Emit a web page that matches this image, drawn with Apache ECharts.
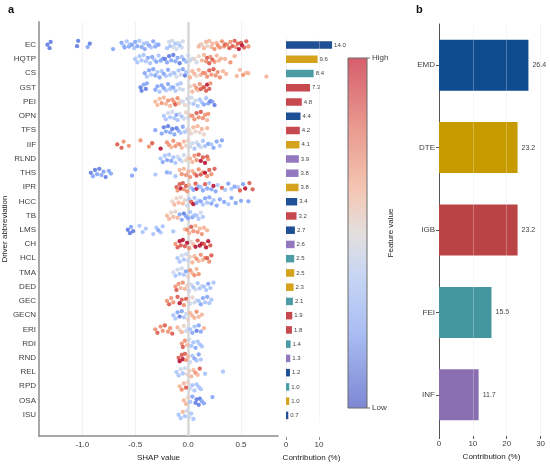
<!DOCTYPE html>
<html>
<head>
<meta charset="utf-8">
<script src="https://cdn.jsdelivr.net/npm/echarts@6/dist/echarts.min.js"></script>
<style>
  html, body { margin: 0; padding: 0; background: #fff; }
  #chart { width: 550px; height: 467px; }
</style>
</head>
<body>
<div id="chart"></div>
<script>
var FEATURES = ['EC', 'HQTP', 'CS', 'GST', 'PEI', 'OPN', 'TFS', 'IIF', 'RLND', 'THS', 'IPR', 'HCC', 'TB', 'LMS',
  'CH', 'HCL', 'TMA', 'DED', 'GEC', 'GECN', 'ERI', 'RDI', 'RND', 'REL', 'RPD', 'OSA', 'ISU'];
var FEATURE_GROUP = ['EMD', 'DTE', 'FEI', 'IGB', 'IGB', 'EMD', 'IGB', 'DTE', 'INF', 'INF', 'DTE', 'EMD', 'IGB', 'EMD',
  'INF', 'FEI', 'DTE', 'DTE', 'FEI', 'IGB', 'IGB', 'FEI', 'INF', 'EMD', 'FEI', 'DTE', 'EMD'];
var CONTRIB = [14.0, 9.6, 8.4, 7.3, 4.8, 4.4, 4.2, 4.1, 3.9, 3.8, 3.8, 3.4, 3.2, 2.7,
  2.6, 2.5, 2.5, 2.3, 2.1, 1.9, 1.8, 1.4, 1.3, 1.2, 1.0, 1.0, 0.7];
var GROUPS = ['EMD', 'DTE', 'IGB', 'FEI', 'INF'];
var GROUP_CONTRIB = [26.4, 23.2, 23.2, 15.5, 11.7];
var SHAP_TICKS = [-1, -0.5, 0, 0.5];
var CONTRIB_TICKS_A = [0, 10];
var CONTRIB_TICKS_B = [0, 10, 20, 30];

// "shap:feature value" pairs, feature value 0 (low) .. 9 (high), one string per driver
var SHAP_POINTS = [
  '-1.33:1 -1.31:1 -1.30:1 -1.05:1 -1.04:1 -0.95:2 -0.93:1 -0.71:2 ' +
  '-0.63:2 -0.61:3 -0.60:2 -0.58:3 -0.56:2 -0.55:3 -0.53:2 -0.51:3 -0.50:2 -0.48:2 -0.46:3 -0.44:2 -0.42:3 -0.41:2 -0.39:3 -0.37:2 -0.35:3 -0.33:2 -0.31:2 -0.30:3 -0.28:2 ' +
  '-0.20:3 -0.18:4 -0.17:3 -0.15:4 -0.14:4 -0.12:3 -0.11:4 -0.09:4 -0.08:3 -0.06:4 -0.05:4 ' +
  '0.10:6 0.12:6 0.13:5 0.15:6 0.17:6 0.18:5 0.20:6 0.22:6 0.23:6 0.25:7 0.27:6 0.28:7 0.30:7 ' +
  '0.32:7 0.34:7 0.35:8 0.37:7 0.39:8 0.40:7 0.42:8 0.44:8 0.45:7 0.47:8 0.48:9 0.50:8 0.51:9 0.53:8 0.55:8 0.57:7',
  '-0.50:3 -0.48:3 -0.46:3 -0.44:3 -0.42:3 -0.40:3 -0.38:2 -0.36:3 -0.34:2 -0.32:3 -0.30:2 -0.28:3 -0.26:2 -0.24:2 -0.22:1 -0.20:2 -0.18:1 -0.16:2 -0.14:1 -0.12:2 -0.10:2 -0.08:1 -0.06:3 -0.04:2 -0.02:3 ' +
  '0.00:4 0.02:4 0.04:4 0.06:5 0.08:4 0.10:5 0.13:6 0.15:6 0.17:7 0.18:8 0.20:8 0.21:7 0.23:8 0.25:7 0.27:6 0.29:6 0.31:6 0.35:6 0.40:7 0.44:6',
  '-0.41:2 -0.39:3 -0.37:2 -0.35:3 -0.33:2 -0.31:2 -0.29:3 -0.27:2 -0.25:3 -0.23:2 -0.21:3 -0.19:2 -0.17:3 -0.15:4 -0.13:3 -0.11:4 -0.09:3 -0.07:4 -0.05:2 -0.03:1 -0.02:3 ' +
  '0.02:6 0.04:6 0.06:6 0.08:5 0.10:6 0.12:6 0.14:7 0.16:7 0.18:7 0.20:8 0.22:7 0.24:8 0.26:7 0.28:7 0.30:7 0.33:6 0.36:6 0.46:6 0.49:6 0.52:7 0.55:6 0.57:6 0.74:6',
  '-0.45:1 -0.44:1 -0.42:2 -0.40:1 -0.39:2 -0.31:2 -0.29:2 -0.27:3 -0.25:2 -0.23:2 -0.21:3 -0.19:2 -0.17:3 -0.16:3 -0.14:2 -0.12:3 -0.10:3 -0.08:4 -0.07:3 -0.05:4 ' +
  '0.02:5 0.04:6 0.06:6 0.08:7 0.09:6 0.11:7 0.12:8 0.14:7 0.15:8 0.17:8 0.18:9 0.20:8 0.21:7',
  '-0.31:6 -0.29:6 -0.27:6 -0.25:7 -0.23:6 -0.21:6 -0.19:7 -0.17:6 -0.15:7 -0.13:7 -0.12:8 -0.10:7 -0.09:6 -0.07:5 -0.05:4 -0.03:5 -0.01:4 ' +
  '0.01:4 0.03:4 0.05:3 0.07:4 0.09:3 0.11:3 0.13:3 0.15:2 0.17:3 0.19:2 0.21:1 0.23:2 0.25:1',
  '-0.23:3 -0.21:3 -0.19:4 -0.17:3 -0.15:4 -0.13:3 -0.11:2 -0.10:3 -0.08:4 -0.06:3 -0.04:4 -0.02:5 0.00:4 ' +
  '0.02:6 0.04:7 0.06:7 0.08:8 0.10:7 0.12:8 0.14:7 0.16:7 0.18:6 0.19:7',
  '-0.31:2 -0.25:2 -0.23:1 -0.21:2 -0.19:1 -0.17:2 -0.15:1 -0.13:2 -0.11:1 -0.09:2 -0.07:3 -0.05:2 -0.03:3 -0.01:4 ' +
  '0.01:5 0.03:5 0.05:6 0.07:5 0.09:6 0.11:5 0.13:6 0.15:5 0.18:6',
  '-0.67:8 -0.63:8 -0.61:7 -0.56:7 -0.45:7 -0.37:7 -0.34:8 -0.26:9 -0.20:7 -0.18:7 -0.16:6 -0.14:7 -0.12:7 -0.10:6 -0.08:7 -0.06:6 -0.04:6 -0.02:5 ' +
  '0.00:5 0.02:4 0.04:4 0.06:3 0.08:4 0.10:3 0.12:4 0.14:3 0.16:3 0.19:2 0.22:3 0.24:2 0.27:2 0.30:3 0.32:2',
  '-0.26:3 -0.24:2 -0.22:3 -0.20:2 -0.18:3 -0.16:2 -0.14:3 -0.12:3 -0.10:4 -0.08:3 -0.06:4 -0.04:4 -0.02:5 ' +
  '0.00:5 0.02:6 0.04:6 0.06:7 0.08:7 0.10:8 0.12:9 0.14:8 0.16:9 0.18:8 0.19:7',
  '-0.92:1 -0.90:2 -0.88:1 -0.86:2 -0.84:1 -0.82:2 -0.80:2 -0.78:1 -0.75:2 -0.73:2 -0.53:2 -0.50:2 -0.31:3 -0.20:2 -0.17:3 -0.12:3 ' +
  '-0.08:6 -0.06:7 -0.04:6 -0.02:7 0.00:6 0.02:7 0.04:6 0.06:7 0.08:8 0.10:7 0.12:8 0.14:7 0.16:9 0.18:7 0.20:8 0.22:7 0.25:8',
  '-0.11:8 -0.10:7 -0.08:8 -0.07:9 -0.05:8 -0.04:7 -0.02:8 -0.01:7 0.01:6 0.03:3 0.05:2 0.07:8 0.08:9 0.10:2 0.12:3 0.14:2 0.16:8 ' +
  '0.18:2 0.20:3 0.22:2 0.24:9 0.26:2 0.28:3 0.32:8 0.35:3 0.38:2 0.41:3 0.44:2 0.47:3 0.49:8 0.52:2 0.54:9 0.58:8 0.61:8',
  '-0.15:5 -0.13:6 -0.11:5 -0.09:6 -0.07:5 -0.05:6 -0.03:5 -0.01:4 0.01:3 0.03:8 0.05:9 0.06:3 0.08:2 0.10:3 0.12:2 0.14:3 ' +
  '0.16:2 0.18:3 0.20:2 0.22:2 0.24:3 0.27:2 0.30:2 0.34:2 0.38:3 0.41:2 0.45:2 0.50:2 0.57:2',
  '-0.20:6 -0.18:6 -0.16:5 -0.14:6 -0.12:5 -0.10:6 -0.08:2 -0.06:2 -0.04:1 -0.02:2 0.00:2 0.02:3 0.04:2 0.06:3 0.08:3 0.10:3 0.12:4 0.14:3',
  '-0.57:1 -0.55:1 -0.54:2 -0.52:1 -0.46:3 -0.43:3 -0.40:3 -0.33:3 -0.30:3 -0.28:2 -0.26:3 -0.24:3 -0.14:3 ' +
  '-0.03:6 -0.01:7 0.01:6 0.03:8 0.05:7 0.07:6 0.09:7 0.11:6 0.13:7 0.15:6 0.18:6',
  '-0.12:7 -0.10:8 -0.08:9 -0.07:8 -0.05:9 -0.03:8 -0.01:9 0.01:7 0.03:5 0.05:6 0.07:9 0.09:8 0.11:9 0.13:9 0.15:8 0.17:9 0.19:9 0.21:8',
  '-0.10:3 -0.08:3 -0.06:4 -0.04:3 -0.02:4 0.00:4 0.02:5 0.04:6 0.06:6 0.08:7 0.10:6 0.12:7 0.14:6 0.16:7 0.18:8 0.20:7 0.22:8',
  '-0.14:4 -0.12:3 -0.10:4 -0.08:3 -0.06:4 -0.04:3 -0.02:2 0.00:5 0.02:7 0.04:6 0.06:7 0.08:6 0.10:7',
  '-0.12:7 -0.11:8 -0.09:7 -0.07:6 -0.05:7 -0.03:6 -0.01:5 0.01:4 0.03:4 0.05:3 0.07:4 0.09:3 0.11:3 0.13:4 0.15:3 0.17:3 0.19:2 0.21:3 0.24:3',
  '-0.20:7 -0.18:8 -0.16:7 -0.14:7 -0.10:8 -0.08:9 -0.06:8 -0.04:7 -0.02:8 0.00:5 0.02:4 0.04:5 0.06:4 0.08:4 0.10:3 0.12:2 0.14:2 0.16:3 0.18:2 0.20:3 0.22:3',
  '-0.14:3 -0.12:3 -0.10:2 -0.08:1 -0.06:2 -0.04:3 -0.02:4 0.00:5 0.02:6 0.04:6 0.06:6 0.08:7 0.10:6 0.13:6',
  '-0.31:7 -0.29:8 -0.26:7 -0.24:7 -0.22:8 -0.19:7 -0.17:7 -0.15:8 -0.10:6 -0.08:5 -0.06:6 -0.04:5 -0.02:4 0.00:4 0.02:3 0.04:2 0.06:3 0.08:1 0.10:2 0.12:2 0.15:6',
  '-0.06:7 -0.05:8 -0.03:7 -0.01:6 0.01:4 0.03:3 0.05:3 0.07:2 0.09:3 0.11:3 0.13:3',
  '-0.09:8 -0.08:9 -0.06:8 -0.05:9 -0.03:8 -0.02:7 0.00:6 0.02:4 0.04:3 0.06:2 0.08:3 0.10:2 0.12:3',
  '-0.11:3 -0.09:3 -0.07:4 -0.05:3 -0.03:4 -0.01:5 0.01:5 0.03:6 0.05:6 0.07:7 0.09:6 0.11:8 0.16:3 0.33:3',
  '-0.08:6 -0.06:7 -0.04:6 -0.02:8 0.00:5 0.02:4 0.04:3 0.06:3 0.08:3 0.10:3 0.12:3',
  '-0.04:6 -0.02:6 0.00:5 0.02:3 0.04:2 0.07:1 0.08:1 0.10:1 0.11:1 0.13:2 0.15:2 0.23:2',
  '-0.09:3 -0.07:3 -0.05:6 -0.03:3 -0.01:4 0.01:4 0.03:3 0.05:3'
];

(function() {
  var font = 'Liberation Sans, Arial, sans-serif';
  var ink = '#222';
  var tickInk = '#3d3d3d';
  var groupColorA = { EMD: '#1f4f95', DTE: '#d4a21c', IGB: '#c64950', FEI: '#4c9ca5', INF: '#9378bf' };
  var groupColorB = { EMD: '#0f4b8f', DTE: '#c79b00', IGB: '#b94345', FEI: '#44969f', INF: '#8a6fb0' };
  var coolwarm = ['#3b4cc0', '#5b7be6', '#86a9fc', '#b1ccfa', '#dcdcdc', '#f4bea5', '#f3956f', '#dc5a48', '#b40426'];
  // vertical spread of the beeswarm, in row units
  var JITTER = [0, 0.24, -0.2, 0.1, -0.28, 0.16, -0.08, 0.3, -0.14, 0.05, 0.2, -0.24, 0.12, -0.03];

  var points = [];
  SHAP_POINTS.forEach(function(row, r) {
    row.trim().split(/\s+/).forEach(function(tok, k) {
      var p = tok.split(':').map(Number);
      points.push([p[0], r + JITTER[k % JITTER.length], p[1]]);
    });
  });

  var chart = echarts.init(document.getElementById('chart'), null, { renderer: 'canvas' });
  chart.setOption({
    animation: false,
    textStyle: { fontFamily: font },
    grid: [
      { left: 39, top: 22, width: 239, height: 421 },
      { left: 286, top: 37.9, width: 51, height: 390.6 },
      { left: 439, top: 24, width: 105, height: 412 }
    ],
    xAxis: [
      {
        type: 'value', gridIndex: 0, min: -1.41, max: 0.85,
        name: 'SHAP value', nameLocation: 'middle', nameGap: 17,
        nameTextStyle: { fontSize: 8, color: ink },
        axisLine: { onZero: false, lineStyle: { color: '#8c8c8c', width: 1.5 } },
        axisTick: { show: false, customValues: SHAP_TICKS },
        axisLabel: { customValues: SHAP_TICKS, fontSize: 8, color: tickInk, margin: 5,
          formatter: function(v) { return v.toFixed(1); } },
        splitLine: { show: true, lineStyle: { color: '#ededed', width: 0.8 } }
      },
      {
        type: 'value', gridIndex: 1, min: 0, max: 15.5, offset: 14.5,
        name: 'Contribution (%)', nameLocation: 'middle', nameGap: 17,
        nameTextStyle: { fontSize: 8, color: ink },
        axisLine: { onZero: false, lineStyle: { color: '#8c8c8c', width: 1.2 } },
        axisTick: { show: true, length: 3, customValues: CONTRIB_TICKS_A, lineStyle: { color: '#8c8c8c' } },
        axisLabel: { customValues: CONTRIB_TICKS_A, fontSize: 8, color: tickInk, margin: 4 },
        splitLine: { show: true, lineStyle: { color: '#efefef', width: 0.8 } }
      },
      {
        type: 'value', gridIndex: 2, min: 0, max: 31,
        name: 'Contribution (%)', nameLocation: 'middle', nameGap: 17,
        nameTextStyle: { fontSize: 8, color: ink },
        axisLine: { onZero: false, lineStyle: { color: '#555', width: 1 } },
        axisTick: { show: true, length: 3, customValues: CONTRIB_TICKS_B, lineStyle: { color: '#555' } },
        axisLabel: { customValues: CONTRIB_TICKS_B, fontSize: 8, color: tickInk, margin: 4 },
        splitLine: { show: true, lineStyle: { color: '#efefef', width: 0.8 } }
      }
    ],
    yAxis: [
      {
        type: 'value', gridIndex: 0, inverse: true, min: -1.6, max: 27.5,
        name: 'Driver abbreviation', nameLocation: 'middle', nameGap: 26, nameRotate: 90,
        nameTextStyle: { fontSize: 8, color: ink },
        axisLine: { show: true, onZero: false, lineStyle: { color: '#a8a8a8', width: 2 } },
        axisTick: { show: false, customValues: FEATURES.map(function(f, i) { return i; }) },
        axisLabel: { customValues: FEATURES.map(function(f, i) { return i; }), fontSize: 8, color: tickInk, margin: 3,
          formatter: function(v) { return FEATURES[v]; } },
        splitLine: { show: false }
      },
      {
        type: 'category', gridIndex: 1, inverse: true, data: FEATURES,
        axisLine: { show: false }, axisTick: { show: false }, axisLabel: { show: false }
      },
      {
        type: 'category', gridIndex: 2, inverse: true, data: GROUPS,
        axisLine: { show: true, onZero: false, lineStyle: { color: '#555', width: 1 } },
        axisTick: { show: true, length: 3, alignWithLabel: true, lineStyle: { color: '#555' } },
        axisLabel: { fontSize: 8, color: tickInk, margin: 4 }
      }
    ],
    visualMap: {
      show: false, type: 'continuous', seriesIndex: 0, dimension: 2, min: 0, max: 9,
      inRange: { color: coolwarm }
    },
    series: [
      {
        type: 'scatter', xAxisIndex: 0, yAxisIndex: 0, silent: true, z: 3,
        symbolSize: 4.3,
        itemStyle: { opacity: 0.85 },
        data: points,
        markLine: {
          silent: true, symbol: 'none', z: 1, animation: false,
          label: { show: false },
          lineStyle: { color: '#d7d7d7', width: 2.5, type: 'solid' },
          data: [{ xAxis: 0 }]
        }
      },
      {
        type: 'bar', xAxisIndex: 1, yAxisIndex: 1, silent: true, barWidth: 7.5,
        data: CONTRIB.map(function(v, i) {
          return { value: v, itemStyle: { color: groupColorA[FEATURE_GROUP[i]] } };
        }),
        label: { show: true, position: 'right', distance: 2, fontSize: 6, color: '#444',
          formatter: function(p) { return p.value.toFixed(1); } },
        markLine: {
          silent: true, symbol: 'none', label: { show: false },
          lineStyle: { color: 'rgba(255,255,255,0.35)', width: 0.8, type: 'solid' },
          data: [{ xAxis: 10 }]
        }
      },
      {
        type: 'bar', xAxisIndex: 2, yAxisIndex: 2, silent: true, barWidth: 51,
        data: GROUP_CONTRIB.map(function(v, i) {
          return { value: v, itemStyle: { color: groupColorB[GROUPS[i]] } };
        }),
        label: { show: true, position: 'right', distance: 4, fontSize: 7, color: '#444',
          formatter: function(p) { return p.value.toFixed(1); } },
        markLine: {
          silent: true, symbol: 'none', label: { show: false },
          lineStyle: { color: 'rgba(255,255,255,0.35)', width: 0.8, type: 'solid' },
          data: [{ xAxis: 10 }, { xAxis: 20 }]
        }
      }
    ],
    graphic: [
      { type: 'text', left: 8, top: 4, style: { text: 'a', font: 'bold 11px ' + font, fill: '#111' } },
      { type: 'text', left: 416, top: 4, style: { text: 'b', font: 'bold 11px ' + font, fill: '#111' } },
      {
        type: 'rect', shape: { x: 348, y: 58, width: 19, height: 350 },
        style: {
          stroke: '#6b6b6b', lineWidth: 1,
          fill: { type: 'linear', x: 0, y: 0, x2: 0, y2: 1, colorStops: [
            { offset: 0, color: '#d65e6c' },
            { offset: 0.2, color: '#e99a8f' },
            { offset: 0.38, color: '#f4c7b4' },
            { offset: 0.5, color: '#e3dfdd' },
            { offset: 0.62, color: '#c7d6f3' },
            { offset: 0.78, color: '#aabef3' },
            { offset: 1, color: '#7d87d3' }
          ] }
        }
      },
      { type: 'line', shape: { x1: 367, y1: 58, x2: 370, y2: 58 }, style: { stroke: '#6b6b6b', lineWidth: 1 } },
      { type: 'line', shape: { x1: 367, y1: 408, x2: 370, y2: 408 }, style: { stroke: '#6b6b6b', lineWidth: 1 } },
      { type: 'text', x: 372, y: 58, style: { text: 'High', fontSize: 8, fontFamily: font, fill: tickInk, textVerticalAlign: 'middle' } },
      { type: 'text', x: 372, y: 408, style: { text: 'Low', fontSize: 8, fontFamily: font, fill: tickInk, textVerticalAlign: 'middle' } },
      { type: 'text', x: 391, y: 233, rotation: Math.PI / 2,
        style: { text: 'Feature value', fontSize: 8, fontFamily: font, fill: ink, textAlign: 'center', textVerticalAlign: 'middle' } }
    ]
  });
  window.addEventListener('resize', function() { chart.resize(); });
})();
</script>
</body>
</html>
